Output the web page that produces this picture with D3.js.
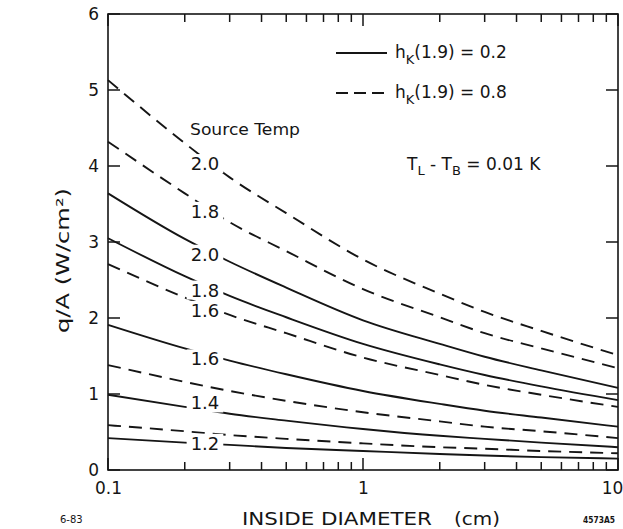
<!DOCTYPE html>
<html><head><meta charset="utf-8">
<script src="https://cdn.jsdelivr.net/npm/d3@7"></script>
<style>
body{margin:0;background:#fff}
svg{display:block}
text{font-family:"DejaVu Sans",sans-serif;fill:#151515}
</style>
</head><body>
<svg id="chart" width="623" height="529"></svg>
<script>
// ---- data ----
const diameters = [0.1, 0.2, 0.3, 0.5, 1, 2, 3, 5, 10];           // cm
// q/A (W/cm^2); h_K(1.9)=0.8 -> dashed, h_K(1.9)=0.2 -> solid
const h08_T20 = [5.13, 4.30, 3.85, 3.38, 2.77, 2.32, 2.08, 1.83, 1.51];
const h08_T18 = [4.32, 3.64, 3.26, 2.88, 2.38, 2.01, 1.80, 1.60, 1.34];
const h02_T20 = [3.64, 3.04, 2.74, 2.40, 1.97, 1.66, 1.49, 1.31, 1.08];
const h02_T18 = [3.05, 2.55, 2.29, 2.01, 1.66, 1.39, 1.25, 1.10, 0.92];
const h08_T16 = [2.71, 2.27, 2.04, 1.80, 1.48, 1.25, 1.12, 0.99, 0.83];
const h02_T16 = [1.91, 1.60, 1.44, 1.26, 1.04, 0.87, 0.78, 0.69, 0.57];
const h08_T14 = [1.38, 1.16, 1.04, 0.91, 0.76, 0.64, 0.57, 0.51, 0.42];
const h02_T14 = [0.99, 0.83, 0.74, 0.65, 0.54, 0.45, 0.41, 0.36, 0.30];
const h08_T12 = [0.59, 0.51, 0.46, 0.41, 0.35, 0.30, 0.28, 0.25, 0.22];
const h02_T12 = [0.42, 0.36, 0.33, 0.29, 0.25, 0.21, 0.19, 0.17, 0.15];

const xTickValues = [0.1, 1, 10];
const xTickLabels = ["0.1", "1", "10"];
const yTickValues = [0, 1, 2, 3, 4, 5, 6];
const yTickLabels = ["0", "1", "2", "3", "4", "5", "6"];
const legendLabels = ["0.2", "0.8"];

const series = [
  {h: 0.8, values: h08_T20}, {h: 0.8, values: h08_T18},
  {h: 0.2, values: h02_T20}, {h: 0.2, values: h02_T18},
  {h: 0.8, values: h08_T16}, {h: 0.2, values: h02_T16},
  {h: 0.8, values: h08_T14}, {h: 0.2, values: h02_T14},
  {h: 0.8, values: h08_T12}, {h: 0.2, values: h02_T12}
];
const curveLabels = [
  {text: "2.0", of: [h08_T20]}, {text: "1.8", of: [h08_T18]},
  {text: "2.0", of: [h02_T20]}, {text: "1.8", of: [h02_T18]},
  {text: "1.6", of: [h08_T16]}, {text: "1.6", of: [h02_T16]},
  {text: "1.4", of: [h08_T14, h02_T14]}, {text: "1.2", of: [h08_T12, h02_T12]}
];

// ---- layout ----
const L = 108, R = 618, T = 14, B = 470;
const svg = d3.select("#chart");
const x = d3.scaleLog().domain([0.1, 10]).range([L, R]);
const y = d3.scaleLinear().domain([0, 6]).range([B, T]);
const ink = "#151515";

// ticks drawn from the scales (inward)
const allX = x.ticks();
const tickG = svg.append("g").attr("stroke", ink).attr("stroke-width", 1.5);
allX.forEach(v => {
  const major = xTickValues.some(m => Math.abs(m - v) < 1e-9);
  const len = major ? 12 : 8;
  const px = x(v);
  tickG.append("line").attr("x1", px).attr("x2", px).attr("y1", B).attr("y2", B - len);
  tickG.append("line").attr("x1", px).attr("x2", px).attr("y1", T).attr("y2", T + len);
});
yTickValues.forEach(v => {
  const py = y(v);
  tickG.append("line").attr("x1", L).attr("x2", L + 12).attr("y1", py).attr("y2", py);
  tickG.append("line").attr("x1", R).attr("x2", R - 12).attr("y1", py).attr("y2", py);
});

// tick labels through the axis generators
function clean(g) {
  g.select(".domain").remove();
  g.selectAll("line").remove();
  g.selectAll("text").attr("font-size", 17).attr("fill", ink).attr("font-family", "DejaVu Sans");
}
svg.append("g").attr("transform", `translate(0,${B})`)
  .call(d3.axisBottom(x).tickValues(xTickValues).tickSize(0).tickPadding(12)
    .tickFormat((d, i) => xTickLabels[i])).call(clean)
  .call(g => g.selectAll(".tick text").filter(d => d === 10).attr("dx", -6));
svg.append("g").attr("transform", `translate(${L},0)`)
  .call(d3.axisLeft(y).tickValues(yTickValues).tickSize(0).tickPadding(9)
    .tickFormat((d, i) => yTickLabels[i])).call(clean);

// frame
svg.append("rect").attr("x", L).attr("y", T).attr("width", R - L).attr("height", B - T)
  .attr("fill", "none").attr("stroke", ink).attr("stroke-width", 1.6);

// curves
const line = d3.line().x(d => x(d[0])).y(d => y(d[1])).curve(d3.curveMonotoneX);
const curves = svg.append("g");
series.forEach(s => {
  curves.append("path")
    .attr("d", line(diameters.map((dm, i) => [dm, s.values[i]])))
    .attr("fill", "none").attr("stroke", ink).attr("stroke-width", 1.9)
    .attr("stroke-dasharray", s.h === 0.8 ? "13,8" : null);
});

// curve labels (interrupting the curves)
function valueAt(vals, xv) {
  const lx = Math.log10(xv);
  for (let i = 0; i < diameters.length - 1; i++) {
    const a = Math.log10(diameters[i]), b = Math.log10(diameters[i + 1]);
    if (lx >= a && lx <= b) return vals[i] + (vals[i + 1] - vals[i]) * (lx - a) / (b - a);
  }
  return vals[vals.length - 1];
}
const labelX = 0.24;
const labG = svg.append("g");
curveLabels.forEach(c => {
  const py = d3.mean(c.of, v => y(valueAt(v, labelX))) + 5;
  const g = labG.append("g");
  const t = g.append("text").attr("x", x(labelX)).attr("y", py).attr("text-anchor", "middle")
    .attr("dominant-baseline", "central").attr("font-size", 18).text(c.text);
  const bb = t.node().getBBox();
  g.insert("rect", "text").attr("x", bb.x - 4).attr("y", bb.y + 1).attr("width", bb.width + 8)
    .attr("height", bb.height - 2).attr("fill", "#fff");
});

// Source Temp
svg.append("text").attr("x", 190).attr("y", 135).attr("font-size", 16)
  .attr("textLength", 110).attr("lengthAdjust", "spacingAndGlyphs").text("Source Temp");

// legend
const legY = [53, 93];
[0, 1].forEach(i => {
  svg.append("line").attr("x1", 336).attr("x2", 387).attr("y1", legY[i]).attr("y2", legY[i])
    .attr("stroke", ink).attr("stroke-width", 1.9).attr("stroke-dasharray", i === 1 ? "12,6" : null);
  const t = svg.append("text").attr("x", 395).attr("y", legY[i] + 5).attr("font-size", 17);
  t.append("tspan").text("h");
  t.append("tspan").attr("font-size", 13).attr("dy", 6).text("K");
  t.append("tspan").attr("dy", -6).text("(1.9) = " + legendLabels[i]);
});

// T_L - T_B = 0.01 K
{
  const t = svg.append("text").attr("x", 407).attr("y", 170).attr("font-size", 17);
  t.append("tspan").text("T");
  t.append("tspan").attr("font-size", 13).attr("dy", 5).text("L");
  t.append("tspan").attr("dy", -5).text(" - T");
  t.append("tspan").attr("font-size", 13).attr("dy", 5).text("B");
  t.append("tspan").attr("dy", -5).text(" = 0.01 K");
}

// axis titles
svg.append("text").attr("x", 242).attr("y", 525).attr("font-size", 17)
  .attr("textLength", 190).attr("lengthAdjust", "spacingAndGlyphs").text("INSIDE DIAMETER");
svg.append("text").attr("x", 454).attr("y", 525).attr("font-size", 17)
  .attr("textLength", 46).attr("lengthAdjust", "spacingAndGlyphs").text("(cm)");
svg.append("text").attr("transform", "translate(69,333) rotate(-90)").attr("font-size", 17)
  .attr("textLength", 145).attr("lengthAdjust", "spacingAndGlyphs").text("q/A    (W/cm²)");

// footnotes
svg.append("text").attr("x", 60).attr("y", 523).attr("font-size", 10).text("6-83");
svg.append("text").attr("x", 583).attr("y", 523).attr("font-size", 9).attr("font-weight", "bold")
  .attr("textLength", 32).attr("lengthAdjust", "spacingAndGlyphs").text("4573A5");
</script>
</body></html>
